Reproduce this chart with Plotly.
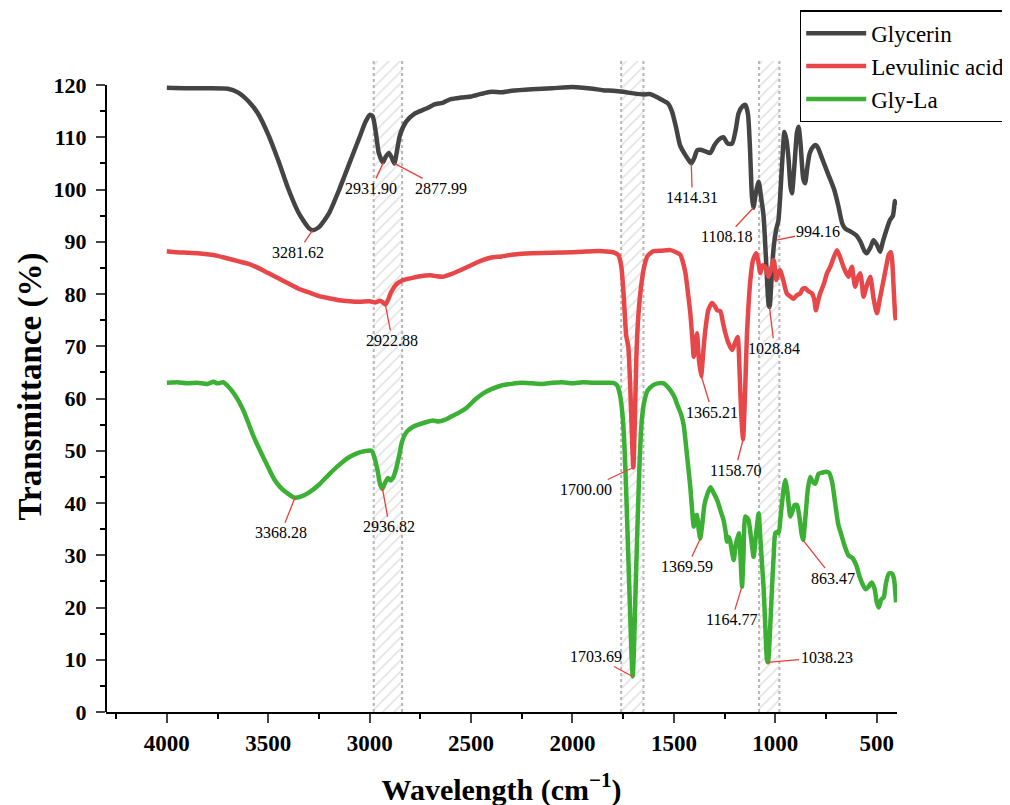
import plotly.graph_objects as go

# ---------------- data ----------------
gly_x = [4000,3900,3800,3700,3650,3600,3550,3500,3450,3400,3350,3300,3280,3250,3200,3150,3100,3050,3020,3000,
         2985,2970,2955,2935,2920,2905,2890,2878,2865,2850,2820,2780,2720,2680,2640,2600,2550,2500,2450,2400,
         2350,2300,2200,2100,2000,1950,1900,1850,1800,1750,1700,1650,1620,1600,1560,1530,1510,1490,1470,1450,
         1430,1414,1400,1385,1370,1345,1320,1300,1280,1256,1235,1213,1195,1181,1160,1148,1135,1125,1115,1108,
         1095,1082,1070,1058,1045,1033,1028,1020,1008,995,985,976,965,955,945,935,925,918,905,893,
         885,875,862,853,843,830,811,800,790,770,740,710,690,670,655,630,600,580,560,549,
         530,516,500,483,470,450,434,420,410,405]
gly_y = [119.5,119.4,119.4,119.3,118.6,117.0,114.5,110.5,105.5,100.0,95.5,92.6,92.2,92.8,95.5,100.0,105.0,110.0,113.0,114.3,
         114.0,111.0,107.0,105.2,106.3,107.0,106.0,105.0,107.5,110.5,113.0,114.5,115.5,116.3,116.6,117.3,117.6,117.8,118.3,118.7,
         118.6,118.9,119.2,119.4,119.6,119.5,119.3,119.0,118.9,118.7,118.4,118.2,118.3,118.0,117.2,116.5,115.0,112.0,108.5,107.0,
         105.8,105.0,106.0,107.5,107.6,107.3,107.0,108.5,109.5,110.0,108.8,108.8,111.5,114.6,116.0,116.2,114.5,108.0,98.5,96.5,
         99.5,101.5,98.5,95.0,86.0,78.0,77.5,82.0,89.0,92.5,94.0,98.6,106.0,111.0,109.5,106.0,100.5,99.3,105.0,111.0,
         112.0,108.5,102.0,101.2,104.0,107.0,108.3,108.5,108.0,106.0,103.0,100.0,97.0,93.5,92.5,92.0,91.2,90.0,88.2,87.8,
         89.0,90.3,89.5,88.1,90.0,92.5,94.2,95.0,97.8,97.0]

lev_x = [4000,3950,3900,3850,3800,3750,3700,3650,3600,3550,3500,3450,3400,3350,3300,3250,3200,3150,3100,3050,
         3000,2970,2950,2935,2923,2910,2895,2870,2840,2800,2750,2700,2670,2640,2600,2550,2500,2450,2400,2350,
         2300,2250,2200,2100,2000,1950,1900,1850,1800,1775,1760,1748,1735,1725,1715,1708,1700,1693,1685,1675,
         1660,1645,1630,1616,1600,1560,1517,1490,1468,1455,1443,1430,1419,1410,1402,1394,1386,1378,1366,1355,
         1345,1330,1312,1300,1287,1271,1258,1246,1230,1213,1200,1186,1175,1168,1159,1150,1140,1123,1110,1094,
         1085,1074,1062,1049,1040,1033,1020,1008,1000,995,985,976,960,943,925,910,893,877,865,853,
         835,819,808,800,790,779,760,745,729,712,696,680,664,650,639,630,622,614,606,595,
         581,573,565,550,532,515,499,485,466,452,441,430,424,415,408,405]
lev_y = [88.2,88.0,87.9,87.8,87.6,87.3,86.8,86.3,85.8,85.0,84.0,83.0,82.0,81.0,80.3,79.6,79.2,78.8,78.6,78.5,
         78.6,78.4,78.7,78.4,78.0,78.8,80.3,81.8,82.6,83.0,83.4,83.6,83.4,83.3,83.8,84.6,85.5,86.4,87.0,87.2,
         87.5,87.7,87.8,87.9,88.0,88.1,88.2,88.2,88.0,87.5,85.5,80.0,72.0,70.0,62.0,54.0,46.8,55.0,68.0,76.0,
         82.0,85.5,87.3,87.8,88.2,88.3,88.4,88.0,87.5,86.0,84.0,80.0,76.3,72.0,68.0,71.0,72.5,68.0,64.3,69.0,
         73.1,77.0,78.3,77.8,76.9,76.7,74.5,72.5,70.5,69.3,70.5,71.8,64.0,57.0,52.2,60.0,72.0,82.7,86.5,87.8,
         86.5,84.0,85.5,85.2,84.0,83.3,85.0,86.5,84.5,82.7,84.0,84.6,82.5,80.1,79.5,79.1,79.8,80.1,81.0,81.1,
         80.5,80.1,79.0,76.9,78.5,80.1,82.0,84.0,85.2,87.0,88.4,87.0,85.2,84.0,83.3,84.5,85.2,83.0,81.4,83.0,
         84.0,82.0,79.5,81.5,83.3,79.0,76.3,79.0,82.7,85.5,87.5,88.0,86.5,80.0,75.5,75.0]

gla_x = [4000,3950,3900,3850,3800,3770,3750,3720,3700,3680,3650,3620,3600,3570,3540,3500,3470,3440,3400,3370,
         3340,3300,3250,3200,3150,3100,3050,3010,2990,2975,2960,2948,2937,2925,2910,2897,2885,2870,2855,2840,
         2820,2790,2760,2720,2690,2660,2630,2600,2560,2520,2480,2440,2400,2350,2300,2250,2200,2150,2100,2050,
         2000,1950,1900,1850,1800,1780,1765,1755,1745,1735,1725,1715,1708,1703,1697,1690,1680,1670,1660,1648,
         1630,1600,1580,1550,1530,1500,1480,1465,1452,1435,1419,1410,1402,1394,1386,1378,1370,1360,1350,1337,
         1320,1305,1287,1270,1255,1245,1238,1230,1222,1213,1205,1195,1180,1172,1164,1157,1148,1140,1132,1120,
         1107,1095,1082,1075,1065,1058,1050,1041,1036,1028,1016,1008,1000,990,983,975,967,958,951,940,
         926,915,905,893,880,870,863,850,840,828,815,803,787,770,750,735,720,705,690,675,
         660,640,620,600,585,570,555,540,525,510,500,490,478,465,455,440,425,415,405]
gla_y = [63.0,63.1,62.9,63.0,62.8,63.2,62.9,63.1,62.4,61.5,59.8,57.5,55.5,52.5,50.0,46.8,44.5,43.0,41.7,41.0,
         41.2,42.0,43.5,45.5,47.3,48.8,49.7,50.0,50.0,48.5,46.0,43.5,42.7,43.8,44.8,44.3,44.8,46.5,49.0,51.8,
         53.5,54.5,55.0,55.5,55.8,55.6,55.9,56.5,57.3,58.3,59.8,61.0,61.8,62.5,62.8,63.0,62.9,62.8,63.0,63.1,
         62.9,63.1,63.0,63.0,63.0,62.5,60.5,57.5,52.0,42.0,30.0,18.0,10.0,6.8,12.0,22.0,35.0,47.0,55.0,59.0,
         61.5,62.6,62.9,62.9,62.2,60.5,58.5,57.0,55.0,49.0,43.0,38.5,35.5,37.5,37.7,35.0,33.2,36.0,39.5,41.5,
         43.0,42.0,40.6,38.5,36.7,34.5,32.6,33.5,32.6,30.5,29.1,32.0,34.2,30.0,24.0,30.0,37.4,37.2,36.7,33.5,
         29.7,34.0,38.0,34.0,28.0,24.0,17.0,10.0,9.5,14.0,24.0,30.0,34.2,34.5,34.2,37.0,40.0,43.0,44.4,42.0,
         37.4,38.5,39.6,39.6,37.0,34.0,32.9,38.0,42.5,45.0,44.0,43.7,45.6,45.8,46.0,45.8,44.0,40.0,36.0,34.0,
         32.0,30.0,29.5,28.0,26.0,24.5,23.5,24.0,24.8,23.5,21.0,20.0,21.5,22.0,24.5,26.5,26.5,25.5,21.0]

series_names = ["Glycerin", "Levulinic acid", "Gly-La"]

# shaded (hatched) wavenumber bands
band_lo = [2840, 1650, 980]
band_hi = [2980, 1760, 1080]

# annotated peaks: series index, wavenumber, transmittance
peak_series = [0, 0, 0, 0, 0, 0, 0,
               1, 1, 1, 1,
               2, 2, 2, 2, 2, 2, 2]
peak_x = [3281.62, 2931.90, 2877.99, 1414.31, 1108.18, 994.16, 1028.84,
          2922.88, 1700.00, 1365.21, 1158.70,
          3368.28, 2936.82, 1703.69, 1369.59, 1164.77, 1038.23, 863.47]
peak_y = [92.2, 105.2, 105.0, 105.0, 96.5, 90.3, 77.5,
          78.0, 46.8, 64.3, 52.2,
          41.0, 42.7, 6.8, 33.2, 24.0, 9.5, 32.9]
# label offsets in pixels (styling)
peak_ax = [-15, -12, 47, 1, -27, 42, 5,
           7, -47, 11, -8,
           -14, 7, -37, -13, -10, 59, 30]
peak_ay = [22, 26, 25, 34, 29, -9, 41,
           36, 22, 36, 31,
           35, 38, -20, 28, 33, -5, 38]

# ---------------- figure ----------------
colors = ["#444444", "#E8474A", "#3CB034"]
SERIF = "Liberation Serif, Times New Roman, serif"
YMAX = 124.6

fig = go.Figure()

for lo, hi in zip(band_lo, band_hi):
    fig.add_trace(go.Scatter(
        x=[lo, lo, hi, hi, lo], y=[0, YMAX, YMAX, 0, 0],
        mode="lines", fill="toself", line=dict(width=0),
        fillcolor="rgba(0,0,0,0)",
        fillpattern=dict(shape="/", fgcolor="#c6c6c6", bgcolor="rgba(255,255,255,0)", size=8, solidity=0.2),
        showlegend=False, hoverinfo="skip"))
    for xv in (lo, hi):
        fig.add_shape(type="line", x0=xv, x1=xv, y0=0, y1=YMAX, xref="x", yref="y",
                      line=dict(color="#b5b5b5", width=2, dash="dot"), layer="below")

for name, xs, ys, c in zip(series_names, [gly_x, lev_x, gla_x], [gly_y, lev_y, gla_y], colors):
    fig.add_trace(go.Scatter(x=xs, y=ys, mode="lines", name=name,
                             line=dict(color=c, width=4.5, shape="spline", smoothing=0.6)))

for s, px, py, ax, ay in zip(peak_series, peak_x, peak_y, peak_ax, peak_ay):
    fig.add_annotation(x=px, y=py, text=f"{px:.2f}", showarrow=True, arrowhead=0,
                       arrowwidth=1.3, arrowcolor="#E8403C", ax=ax, ay=ay, standoff=0,
                       font=dict(family=SERIF, size=16, color="black"))

# y axis line only up to 120
fig.add_shape(type="line", xref="paper", yref="y", x0=0, x1=0, y0=0, y1=120,
              line=dict(color="black", width=2))

fig.update_layout(
    width=1010, height=805,
    margin=dict(l=98, r=121, t=53, b=101, autoexpand=False),
    paper_bgcolor="white", plot_bgcolor="white",
    font=dict(family=SERIF, color="black"),
    legend=dict(x=0.877, y=1.078, xanchor="left", yanchor="top",
                bordercolor="black", borderwidth=1.5, bgcolor="white",
                font=dict(family=SERIF, size=23), itemwidth=60, tracegroupgap=0),
    xaxis=dict(range=[4300, 400], tick0=500, dtick=500, ticks="outside", ticklen=9, tickwidth=2,
               showline=True, linecolor="black", linewidth=2, showgrid=False, zeroline=False,
               automargin=False,
               tickfont=dict(family=SERIF, size=23, weight="bold"),
               minor=dict(dtick=250, ticks="outside", ticklen=5, tickwidth=2, tickcolor="black"),
               title=dict(text="<b>Wavelength (cm<sup>−1</sup>)</b>", font=dict(family=SERIF, size=30), standoff=24)),
    yaxis=dict(range=[0, YMAX], tick0=0, dtick=10, ticks="outside", ticklen=9, tickwidth=2,
               showline=False, showgrid=False, zeroline=False,
               automargin=False, ticklabelstandoff=5,
               tickfont=dict(family=SERIF, size=22, weight="bold"),
               minor=dict(dtick=5, ticks="outside", ticklen=5, tickwidth=2, tickcolor="black"),
               title=dict(text="<b>Transmittance (%)</b>", font=dict(family=SERIF, size=33), standoff=2)),
)

fig.write_html("out.html")
